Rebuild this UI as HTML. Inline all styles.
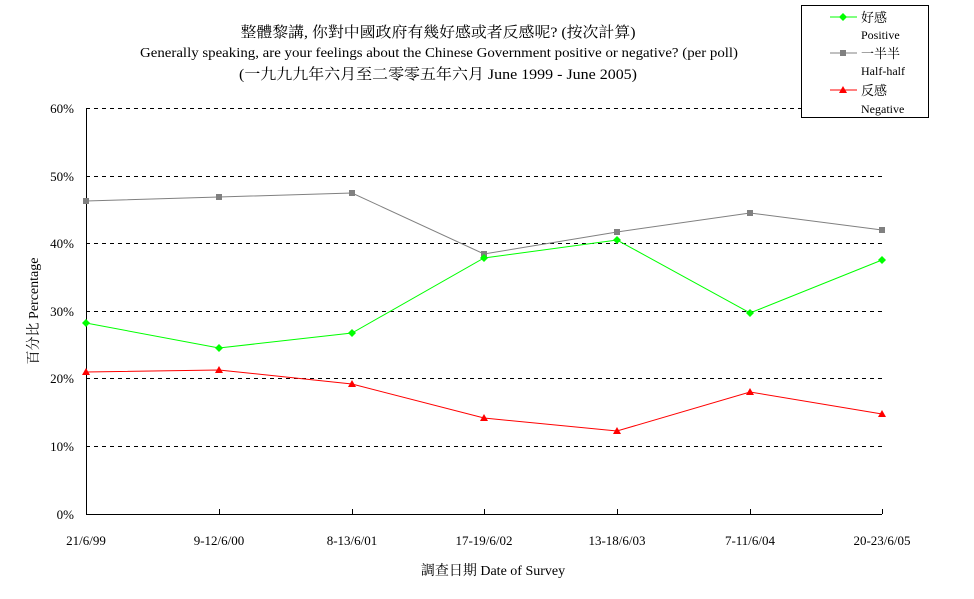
<!DOCTYPE html>
<html><head><meta charset="utf-8"><style>
html,body{margin:0;padding:0;background:#fff;}
svg{display:block;}
text{font-family:"Liberation Serif","Noto Serif CJK SC","Noto Sans CJK TC",serif;fill:#000;}
</style></head><body>
<svg width="974" height="599" xmlns="http://www.w3.org/2000/svg">
<rect width="974" height="599" fill="#fff"/>
<g font-size="15" text-anchor="middle">
<text x="438" y="37" font-family="Noto Sans CJK TC, sans-serif" textLength="395" lengthAdjust="spacingAndGlyphs">整體黎講, 你對中國政府有幾好感或者反感呢? (按次計算)</text>
<text x="439" y="57" font-size="14" textLength="598" lengthAdjust="spacingAndGlyphs">Generally speaking, are your feelings about the Chinese Government positive or negative? (per poll)</text>
<text x="438" y="79" textLength="398" lengthAdjust="spacingAndGlyphs">(一九九九年六月至二零零五年六月 June 1999 - June 2005)</text>
</g>
<g stroke="#000" stroke-dasharray="4,4" stroke-width="1">
<line x1="86" y1="108.5" x2="882" y2="108.5"/>
<line x1="86" y1="176.5" x2="882" y2="176.5"/>
<line x1="86" y1="243.5" x2="882" y2="243.5"/>
<line x1="86" y1="311.5" x2="882" y2="311.5"/>
<line x1="86" y1="378.5" x2="882" y2="378.5"/>
<line x1="86" y1="446.5" x2="882" y2="446.5"/>
</g>
<line x1="86.5" y1="108" x2="86.5" y2="514" stroke="#000"/>
<line x1="86" y1="514.5" x2="882" y2="514.5" stroke="#000"/>
<g stroke="#000">
<line x1="219.5" y1="509" x2="219.5" y2="514"/><line x1="352.5" y1="509" x2="352.5" y2="514"/>
<line x1="484.5" y1="509" x2="484.5" y2="514"/><line x1="617.5" y1="509" x2="617.5" y2="514"/>
<line x1="750.5" y1="509" x2="750.5" y2="514"/><line x1="882.5" y1="509" x2="882.5" y2="514"/>
</g>
<g font-size="13" text-anchor="end">
<text x="74" y="113">60%</text><text x="74" y="181">50%</text><text x="74" y="248">40%</text>
<text x="74" y="316">30%</text><text x="74" y="383">20%</text><text x="74" y="451">10%</text><text x="74" y="519">0%</text>
</g>
<g font-size="13" text-anchor="middle">
<text x="86" y="545">21/6/99</text><text x="219" y="545">9-12/6/00</text><text x="352" y="545">8-13/6/01</text>
<text x="484" y="545">17-19/6/02</text><text x="617" y="545">13-18/6/03</text><text x="750" y="545">7-11/6/04</text><text x="882" y="545">20-23/6/05</text>
<text x="493" y="575" font-size="14">調查日期 Date of Survey</text>
<text transform="translate(38,311) rotate(-90)" font-size="14">百分比 Percentage</text>
</g>
<polyline fill="none" stroke="#808080" points="86,201 219,197 352,193 484,254 617,232 750,213 882,230"/>
<polyline fill="none" stroke="#00ff00" points="86,323 219,348 352,333 484,258 617,240 750,313 882,260"/>
<polyline fill="none" stroke="#ff0000" points="86,372 219,370 352,384 484,418 617,431 750,392 882,414"/>
<g fill="#808080">
<rect x="83" y="198" width="6" height="6"/><rect x="216" y="194" width="6" height="6"/><rect x="349" y="190" width="6" height="6"/>
<rect x="481" y="251" width="6" height="6"/><rect x="614" y="229" width="6" height="6"/><rect x="747" y="210" width="6" height="6"/><rect x="879" y="227" width="6" height="6"/>
</g>
<g fill="#00ff00">
<path d="M86,319l4,4l-4,4l-4,-4z"/><path d="M219,344l4,4l-4,4l-4,-4z"/><path d="M352,329l4,4l-4,4l-4,-4z"/>
<path d="M484,254l4,4l-4,4l-4,-4z"/><path d="M617,236l4,4l-4,4l-4,-4z"/><path d="M750,309l4,4l-4,4l-4,-4z"/><path d="M882,256l4,4l-4,4l-4,-4z"/>
</g>
<g fill="#ff0000">
<path d="M86,368l4,7h-8z"/><path d="M219,366l4,7h-8z"/><path d="M352,380l4,7h-8z"/>
<path d="M484,414l4,7h-8z"/><path d="M617,427l4,7h-8z"/><path d="M750,388l4,7h-8z"/><path d="M882,410l4,7h-8z"/>
</g>
<rect x="801.5" y="5.5" width="127" height="112" fill="#fff" stroke="#000"/>
<line x1="830" y1="17" x2="857" y2="17" stroke="#00ff00"/><path d="M843,13l4,4l-4,4l-4,-4z" fill="#00ff00"/>
<line x1="830" y1="53" x2="857" y2="53" stroke="#808080"/><rect x="840" y="50" width="6" height="6" fill="#808080"/>
<line x1="830" y1="90" x2="857" y2="90" stroke="#ff0000"/><path d="M843,86l4,7h-8z" fill="#ff0000"/>
<g font-size="12">
<text x="861" y="22" font-size="13">好感</text><text x="861" y="39">Positive</text>
<text x="861" y="58" font-size="13">一半半</text><text x="861" y="75">Half-half</text>
<text x="861" y="95" font-size="13">反感</text><text x="861" y="113">Negative</text>
</g>
</svg>
</body></html>
